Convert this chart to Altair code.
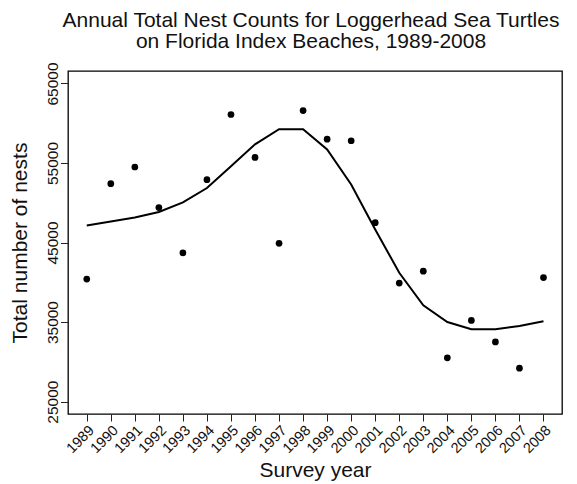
import altair as alt
import pandas as pd

# Annual loggerhead nest counts on Florida index beaches and the smoothed trend
years = list(range(1989, 2009))
nests = [40400, 52400, 54500, 49400, 43700, 52900, 61100, 55700, 44900, 61600,
         58000, 57800, 47500, 39900, 41400, 30500, 35200, 32500, 29200, 40600]
trend = [47150, 47650, 48150, 48850, 50050, 51850, 54600, 57350, 59250, 59250,
         56700, 52300, 46650, 41200, 37100, 35000, 34100, 34100, 34500, 35100]

y_ticks = [25000, 35000, 45000, 55000, 65000]

df = pd.DataFrame({"year": years, "nests": nests, "trend": trend})

FONT = "Liberation Sans"

x_scale = alt.Scale(domain=[1988.22, 2008.77], nice=False, zero=False)
y_scale = alt.Scale(domain=[23440, 66570], nice=False, zero=False)

x_axis = alt.Axis(
    values=years, format="d", title="Survey year",
    labelAngle=315, labelAlign="right", labelBaseline="top", labelPadding=2,
    labelFontSize=14.5, labelFont=FONT, labelColor="#111",
    labelOverlap=False, labelBound=False, labelFlush=False,
    tickSize=7, tickColor="#222", tickWidth=1, domain=False, grid=False,
    titleFont=FONT, titleFontSize=21, titleFontWeight="normal", titleColor="#111",
    titleX=247, titleY=62, titleBaseline="alphabetic", titleAlign="center",
)
y_axis = alt.Axis(
    values=y_ticks, format="d", title="Total number of nests",
    labelAngle=270, labelAlign="center", labelBaseline="alphabetic", labelPadding=3,
    labelFontSize=15.5, labelFont=FONT, labelColor="#111", labelOverlap=False,
    tickSize=7.5, tickColor="#222", tickWidth=1, domain=False, grid=False,
    titleFont=FONT, titleFontSize=21, titleFontWeight="normal", titleColor="#111",
    titleAngle=270, titleX=-42, titleY=171.5, titleBaseline="alphabetic", titleAlign="center",
)

# shared x encoding so both layers use one axis definition
base = alt.Chart(df).encode(
    x=alt.X("year:Q", scale=x_scale, axis=x_axis),
)

points = base.mark_circle(size=45, color="black", opacity=1).encode(
    y=alt.Y("nests:Q", scale=y_scale, axis=y_axis),
)

line = base.mark_line(color="black", strokeWidth=2).encode(
    y=alt.Y("trend:Q", scale=y_scale, axis=y_axis),
)

chart = alt.layer(points, line).properties(
    width=494,
    height=343,
    title=alt.TitleParams(
        text=["Annual Total Nest Counts for Loggerhead Sea Turtles",
              "on Florida Index Beaches, 1989-2008"],
        font=FONT, fontSize=21, fontWeight="normal", color="#111",
        anchor="middle", lineHeight=21, offset=10, dx=-4,
    ),
    autosize=alt.AutoSizeParams(type="none"),
    padding={"left": 68, "top": 71, "right": 15, "bottom": 70},
    background="white",
).configure_axisX(
    labelOverlap=False
).configure_view(
    stroke="black", strokeWidth=1.3
)

chart.save("out.html", embed_options={"renderer": "svg", "actions": False})
